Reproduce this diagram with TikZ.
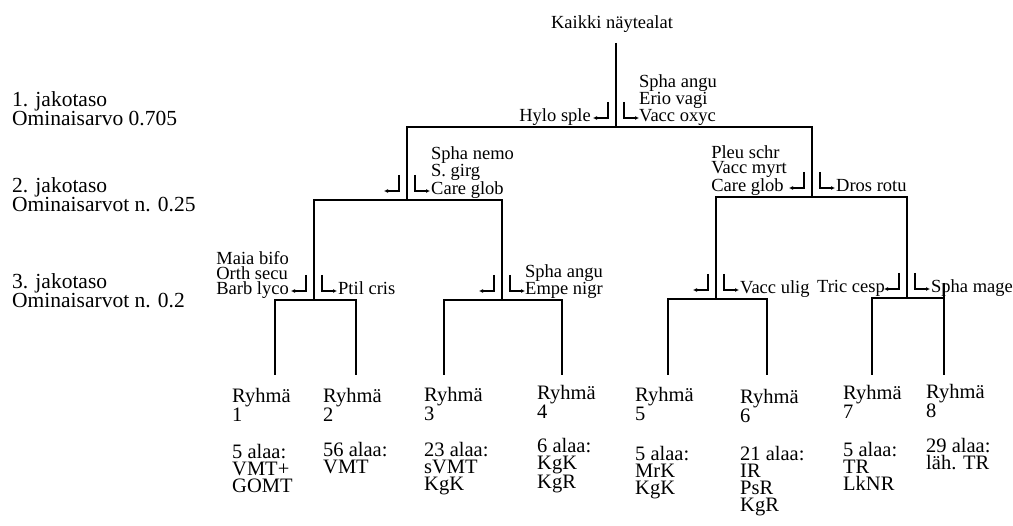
\documentclass[tikz,border=0pt]{standalone}
\usepackage{fontspec}
\setmainfont{Liberation Serif}
\usetikzlibrary{calc, arrows.meta}

\begin{document}
\begin{tikzpicture}[x=1pt, y=-1pt,
    branch/.style={line width=1.6pt},
    turnarrow/.style={line width=1.1pt, -{Latex[length=4pt, width=4pt]}},
    taxa/.style={font=\fontsize{18.5}{15}\selectfont, inner sep=0pt, align=left, text depth=0pt},
    levellabel/.style={font=\fontsize{21.5}{17}\selectfont, inner sep=0pt, align=left, anchor=north west},
    group/.style={font=\fontsize{20.5}{17}\selectfont, inner sep=0pt, align=left, anchor=north west}]

    \useasboundingbox (0,0) rectangle (1013,526);

    % Split points of the tree
    \coordinate (root) at (616,43);
    \coordinate (n0)  at (616,127);
    \coordinate (nL)  at (407,200);
    \coordinate (nR)  at (812,197);
    \coordinate (nLL) at (314,300);
    \coordinate (nLR) at (502,300);
    \coordinate (nRL) at (716,299);
    \coordinate (nRR) at (907,298);

    % Lower ends of the branches
    \coordinate (g1) at (275,375);
    \coordinate (g2) at (356,375);
    \coordinate (g3) at (444,375);
    \coordinate (g4) at (562,375);
    \coordinate (g5) at (668,375);
    \coordinate (g6) at (767,375);
    \coordinate (g7) at (872,375);
    \coordinate (g8) at (944,375);
    \coordinate (g8top) at (944,283);

    \node[taxa, anchor=base] (all) at (612,29) {Kaikki näytealat};

    % Branches
    \draw[branch] (root) -- (n0);
    \draw[branch] (nL) |- (n0) -| (nR);
    \draw[branch] (nLL) |- (nL) -| (nLR);
    \draw[branch] (nRL) |- (nR) -| (nRR);
    \draw[branch] (g1) |- (nLL) -| (g2);
    \draw[branch] (g3) |- (nLR) -| (g4);
    \draw[branch] (g5) |- (nRL) -| (g6);
    \draw[branch] (g7) |- (nRR) -| (g8);
    \draw[branch] (g8top) -- (g8);

    % Turn arrows at every split
    \draw[turnarrow] ($(n0)+(-8,-25)$) |- ++(-15,16);
    \draw[turnarrow] ($(n0)+(8,-25)$) |- ++(15,16);
    \draw[turnarrow] ($(nL)+(-8,-25)$) |- ++(-15,16);
    \draw[turnarrow] ($(nL)+(8,-25)$) |- ++(15,16);
    \draw[turnarrow] ($(nR)+(-8,-25)$) |- ++(-15,16);
    \draw[turnarrow] ($(nR)+(8,-25)$) |- ++(15,16);
    \draw[turnarrow] ($(nLL)+(-8,-25)$) |- ++(-15,16);
    \draw[turnarrow] ($(nLL)+(8,-25)$) |- ++(15,16);
    \draw[turnarrow] ($(nLR)+(-8,-25)$) |- ++(-15,16);
    \draw[turnarrow] ($(nLR)+(8,-25)$) |- ++(15,16);
    \draw[turnarrow] ($(nRL)+(-8,-25)$) |- ++(-15,16);
    \draw[turnarrow] ($(nRL)+(8,-25)$) |- ++(15,16);
    \draw[turnarrow] ($(nRR)+(-8,-25)$) |- ++(-15,16);
    \draw[turnarrow] ($(nRR)+(8,-25)$) |- ++(15,16);

    % Species at the splits
    \node[taxa, anchor=south east] (hylo) at ($(n0)+(-25,-5)$) {Hylo sple};
    \node[taxa, anchor=south west] (spha) at ($(n0)+(23,-5)$) {Spha angu\\Erio vagi\\Vacc oxyc};
    \node[taxa, anchor=south west] (nemo) at ($(nL)+(24,-5)$) {Spha nemo\\S. girg\\Care glob};
    \node[taxa, anchor=south east] (pleu) at ($(nR)+(-25,-5)$) {Pleu schr\\Vacc myrt\\Care glob};
    \node[taxa, anchor=south west] (dros) at ($(nR)+(24,-5)$) {Dros rotu};
    \node[taxa, anchor=south east] (maia) at ($(nLL)+(-25,-5)$) {Maia bifo\\Orth secu\\Barb lyco};
    \node[taxa, anchor=south west] (ptil) at ($(nLL)+(24,-5)$) {Ptil cris};
    \node[taxa, anchor=south west] (empe) at ($(nLR)+(23,-5)$) {Spha angu\\Empe nigr};
    \node[taxa, anchor=south west] (vacc) at ($(nRL)+(24,-5)$) {Vacc ulig};
    \node[taxa, anchor=south east] (tric) at ($(nRR)+(-22,-5)$) {Tric cesp};
    \node[taxa, anchor=south west] (mage) at ($(nRR)+(24,-5)$) {Spha mage};

    % Levels on the left
    \node[levellabel] (lev1) at (12,91) {1. jakotaso\\Ominaisarvo 0.705};
    \node[levellabel] (lev2) at (12,177) {2. jakotaso\\Ominaisarvot n. 0.25};
    \node[levellabel] (lev3) at (12,273) {3. jakotaso\\Ominaisarvot n. 0.2};

    % Groups
    \node[group] (r1) at (232,388) {Ryhmä\\1};
    \node[group] (r2) at (323,388) {Ryhmä\\2};
    \node[group] (r3) at (424,387) {Ryhmä\\3};
    \node[group] (r4) at (537,385) {Ryhmä\\4};
    \node[group] (r5) at (635,387) {Ryhmä\\5};
    \node[group] (r6) at (740,389) {Ryhmä\\6};
    \node[group] (r7) at (843,385) {Ryhmä\\7};
    \node[group] (r8) at (926,384) {Ryhmä\\8};

    \node[group] (a1) at (232,444) {5 alaa:\\VMT+\\GOMT};
    \node[group] (a2) at (323,442) {56 alaa:\\VMT};
    \node[group] (a3) at (424,442) {23 alaa:\\sVMT\\KgK};
    \node[group] (a4) at (537,438) {6 alaa:\\KgK\\KgR};
    \node[group] (a5) at (635,446) {5 alaa:\\MrK\\KgK};
    \node[group] (a6) at (740,446) {21 alaa:\\IR\\PsR\\KgR};
    \node[group] (a7) at (843,442) {5 alaa:\\TR\\LkNR};
    \node[group] (a8) at (926,438) {29 alaa:\\läh. TR};

\end{tikzpicture}
\end{document}
